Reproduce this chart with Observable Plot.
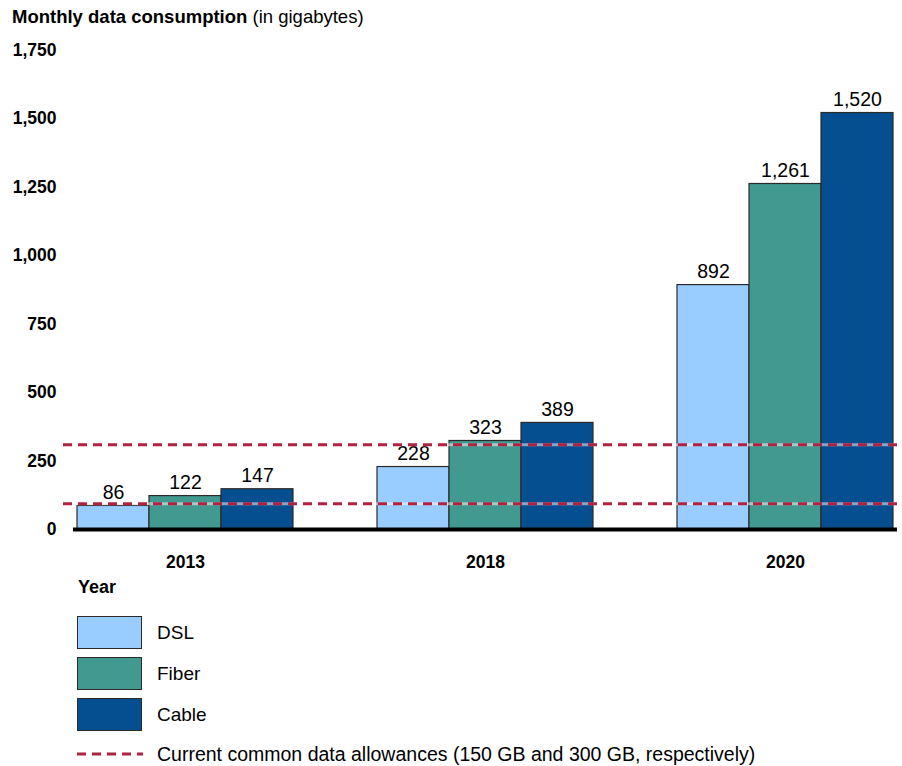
<!DOCTYPE html>
<html><head><meta charset="utf-8">
<script src="https://cdn.jsdelivr.net/npm/d3@7"></script>
<script src="https://cdn.jsdelivr.net/npm/@observablehq/plot@0.6"></script>
<style>
body{margin:0;background:#fff;font-family:"Liberation Sans",Arial,sans-serif;color:#000;width:902px;height:766px;position:relative;overflow:hidden}
#title{position:absolute;left:12px;top:5px;font-size:18.5px;line-height:24px;white-space:nowrap}
#chart,#overlay{position:absolute;left:0;top:34px}
.lg{position:absolute;white-space:nowrap}
</style></head><body>
<div id="title"><b>Monthly data consumption</b> (in gigabytes)</div>
<div id="chart"></div>
<div id="overlay"></div>
<div id="legend"></div>
<script>
const years = ["2013", "2018", "2020"];
const types = ["DSL", "Fiber", "Cable"];
const dsl = [86, 228, 892];
const fiber = [122, 323, 1261];
const cable = [147, 389, 1520];
const allowanceLines = [94, 309]; // as drawn in the picture
const yTicks = [0, 250, 500, 750, 1000, 1250, 1500, 1750];
const colors = ["#99ccff", "#41998f", "#054f91"];
const legendTitle = "Year";
const allowanceLabel = "Current common data allowances (150 GB and 300 GB, respectively)";

const series = [dsl, fiber, cable];
const data = [];
years.forEach((yr, i) => types.forEach((t, j) => data.push({year: yr, type: t, value: series[j][i]})));
const fmt = d3.format(",");

const common = {
  width: 902,
  height: 547,
  marginTop: 15.5,
  marginBottom: 52,
  marginLeft: 63,
  marginRight: 0,
  style: {fontFamily: "'Liberation Sans', Arial, sans-serif", color: "#000", background: "transparent"}
};

const chart = Plot.plot({
  ...common,
  fx: {domain: years, range: [76, 894], paddingInner: 0.28, paddingOuter: 0, label: null},
  x: {domain: types, padding: 0, axis: null},
  y: {domain: [0, 1750], label: null},
  color: {domain: types, range: colors},
  marks: [
    Plot.axisY({ticks: yTicks, tickFormat: fmt, tickSize: 0, tickPadding: 21, fontWeight: "bold", fontSize: 17.5, label: null}),
    Plot.axisFx({anchor: "bottom", tickSize: 0, tickPadding: 26, fontWeight: "bold", fontSize: 17.5, label: null}),
    Plot.barY(data, {fx: "year", x: "type", y: "value", fill: "type", stroke: "#2a2a2a", strokeWidth: 1.2}),
    Plot.text(data, {fx: "year", x: "type", y: "value", text: d => fmt(d.value), dy: -13, fontSize: 19.5, fill: "#000"})
  ]
});
document.getElementById("chart").appendChild(chart);

const overlay = Plot.plot({
  ...common,
  y: {domain: [0, 1750], axis: null},
  marks: [
    Plot.ruleY(allowanceLines, {stroke: "#fff", strokeOpacity: 0.5, strokeWidth: 3}),
    Plot.ruleY(allowanceLines, {stroke: "#b0223f", strokeWidth: 3, strokeDasharray: "9,6"}),
    Plot.ruleY([0], {stroke: "#000", strokeWidth: 4, insetLeft: 10, insetRight: 5})
  ]
});
document.getElementById("overlay").appendChild(overlay);

const lg = document.getElementById("legend");
const yl = document.createElement("div");
yl.className = "lg";
yl.style.cssText = "left:78px;top:577px;font-size:18px;font-weight:bold;line-height:20px";
yl.textContent = legendTitle;
lg.appendChild(yl);
types.forEach((t, i) => {
  const top = 616 + i * 41;
  const sw = document.createElement("div");
  sw.className = "lg";
  sw.style.cssText = `left:77px;top:${top}px;width:65px;height:33px;box-sizing:border-box;border:1.5px solid #2a2a2a;background:${colors[i]}`;
  lg.appendChild(sw);
  const tx = document.createElement("div");
  tx.className = "lg";
  tx.style.cssText = `left:157px;top:${top}px;line-height:33px;font-size:19px`;
  tx.textContent = t;
  lg.appendChild(tx);
});
const dl = document.createElement("div");
dl.className = "lg";
dl.style.cssText = "left:77px;top:747px";
dl.innerHTML = '<svg width="66" height="14"><line x1="0" x2="66" y1="7" y2="7" stroke="#b0223f" stroke-width="3" stroke-dasharray="9,6"/></svg>';
lg.appendChild(dl);
const dt = document.createElement("div");
dt.className = "lg";
dt.style.cssText = "left:157px;top:742px;line-height:24px;font-size:19.5px";
dt.textContent = allowanceLabel;
lg.appendChild(dt);
</script>
</body></html>
